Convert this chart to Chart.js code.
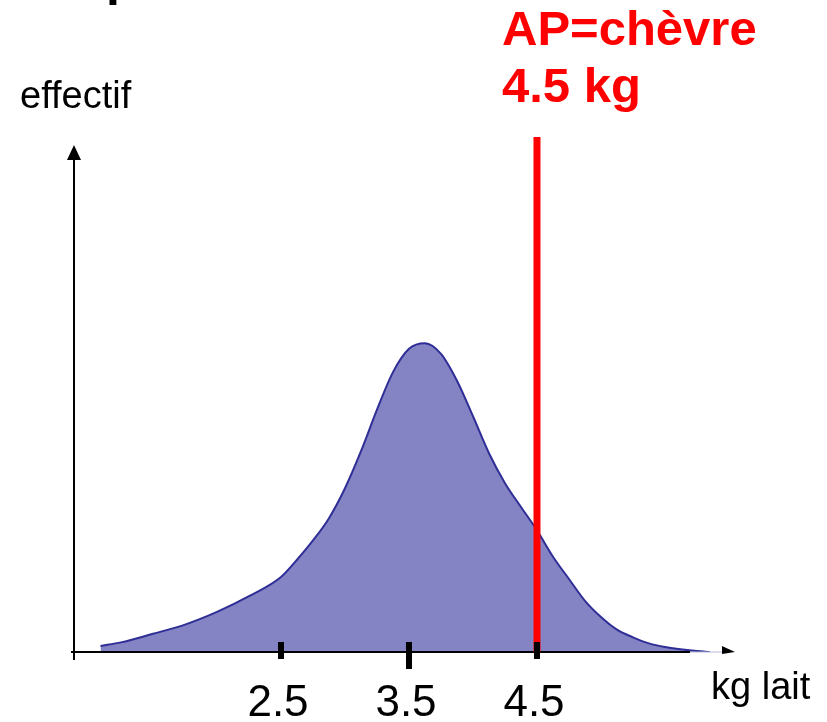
<!DOCTYPE html>
<html>
<head>
<meta charset="utf-8">
<script src="https://cdn.jsdelivr.net/npm/chart.js@4/dist/chart.umd.min.js"></script>
<style>
  html, body { margin: 0; padding: 0; background: #fff; }
  #wrap { width: 827px; height: 722px; }
</style>
</head>
<body>
<div id="wrap"><canvas id="chartLait"></canvas></div>
<script>
// courbe: production de lait (kg) / effectif
const kgLait = [1.09, 1.25, 1.5, 1.75, 2.0, 2.25, 2.5, 2.625, 2.75, 2.875, 3.0, 3.125, 3.25, 3.375, 3.5,
  3.625, 3.75, 3.875, 4.0, 4.125, 4.25, 4.375, 4.5, 4.625, 4.75, 4.875, 5.0, 5.125, 5.25, 5.375, 5.5, 5.75, 5.85];
const effectif = [1.2, 1.9, 3.6, 5.4, 7.9, 11.0, 14.8, 18.2, 22.0, 26.4, 32.3, 39.6, 47.8, 55.2, 59.8,
  60.9, 58.8, 53.5, 46.5, 39.2, 33.3, 28.6, 24.0, 18.8, 14.4, 10.1, 6.9, 4.4, 2.9, 1.7, 1.0, 0.2, 0];

// graduations de l'axe x
const tickValues = [2.5, 3.5, 4.5];
const tickLabels = ['2.5', '3.5', '4.5'];

// apport de la chèvre
const apValue = 4.5;
const apLabels = ['AP=chèvre', '4.5 kg'];

const FONT = "'Liberation Sans', Arial, sans-serif";

// axes, flèches, graduations et textes
const decorations = {
  id: 'decorations',
  afterDatasetsDraw(chart) {
    const { ctx, chartArea, scales } = chart;
    const x = scales.x;
    const left = chartArea.left, bottom = chartArea.bottom, top = chartArea.top, right = chartArea.right;
    ctx.save();

    // axe y + flèche
    ctx.strokeStyle = '#000';
    ctx.lineWidth = 2;
    ctx.beginPath();
    ctx.moveTo(left + 1, bottom + 8);
    ctx.lineTo(left + 1, top + 14);
    ctx.stroke();
    ctx.fillStyle = '#000';
    ctx.beginPath();
    ctx.moveTo(left + 1, top);
    ctx.lineTo(left - 6, top + 15);
    ctx.lineTo(left + 8, top + 15);
    ctx.closePath();
    ctx.fill();

    // axe x + flèche
    ctx.beginPath();
    ctx.moveTo(left - 2, bottom);
    ctx.lineTo(right - 45, bottom);
    ctx.stroke();
    ctx.strokeStyle = '#b8b8d8';
    ctx.lineWidth = 1;
    ctx.beginPath();
    ctx.moveTo(right - 45, bottom);
    ctx.lineTo(right - 12, bottom);
    ctx.stroke();
    ctx.beginPath();
    ctx.moveTo(right, bottom);
    ctx.lineTo(right - 13, bottom - 6);
    ctx.lineTo(right - 13, bottom + 2);
    ctx.closePath();
    ctx.fill();

    // ligne rouge AP
    const xAp = x.getPixelForValue(apValue);
    ctx.fillStyle = '#ff0000';
    ctx.fillRect(xAp - 3.5, top - 8, 7, bottom - top + 8);

    // graduations
    ctx.fillStyle = '#000';
    tickValues.forEach((v, i) => {
      const px = x.getPixelForValue(v);
      ctx.fillRect(px - 3, bottom - 10, 6, i === 1 ? 27 : 17);
    });
    ctx.font = '44px ' + FONT;
    ctx.textAlign = 'center';
    ctx.textBaseline = 'alphabetic';
    tickValues.forEach((v, i) => {
      ctx.fillText(tickLabels[i], x.getPixelForValue(v) - 3, bottom + 64);
    });

    // titres des axes
    ctx.textAlign = 'left';
    ctx.font = '38px ' + FONT;
    ctx.fillText('effectif', 20, 108);
    ctx.fillText('kg lait', 711, 699);

    // bout de titre coupé en haut
    ctx.font = 'bold 50px ' + FONT;
    ctx.fillText('p', 106, -5);

    // texte rouge
    ctx.fillStyle = '#ff0000';
    ctx.font = 'bold 49px ' + FONT;
    ctx.fillText(apLabels[0], 502, 45);
    ctx.fillText(apLabels[1], 502, 102);

    ctx.restore();
  }
};

const context = document.getElementById('chartLait');
const chartLait = new Chart(context, {
  type: 'line',
  data: {
    datasets: [{
      label: 'effectif',
      data: kgLait.map((k, i) => ({ x: k, y: effectif[i] })),
      borderColor: '#2e2e96',
      borderWidth: 2,
      backgroundColor: '#8484c4',
      fill: 'origin',
      pointRadius: 0,
      tension: 0.4,
      cubicInterpolationMode: 'monotone',
    }]
  },
  options: {
    responsive: true,
    maintainAspectRatio: false,
    animation: false,
    layout: {
      padding: { left: 73, right: 92, top: 145, bottom: 70 }
    },
    scales: {
      x: {
        type: 'linear',
        min: 0.875,
        max: 6.047,
        display: false,
      },
      y: {
        min: 0,
        max: 100,
        display: false,
      }
    },
    plugins: {
      legend: { display: false },
      tooltip: { enabled: false },
    }
  },
  plugins: [decorations]
});
</script>
</body>
</html>
